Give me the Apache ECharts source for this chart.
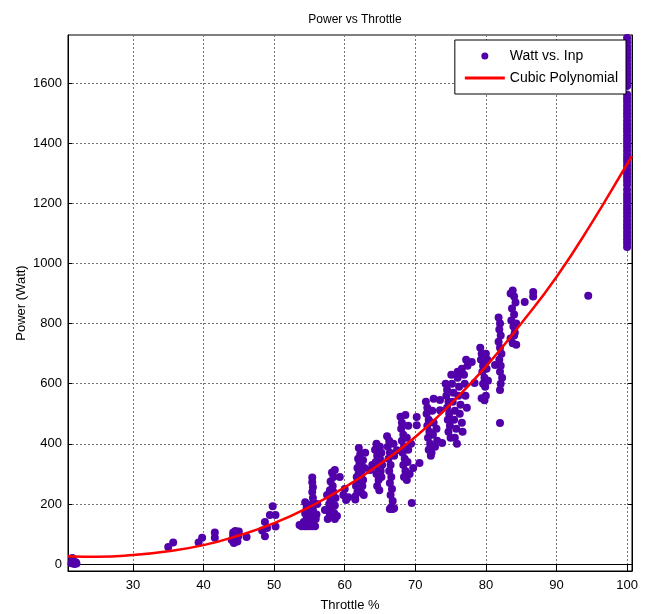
<!DOCTYPE html>
<html>
<head>
<meta charset="utf-8">
<script src="https://cdn.jsdelivr.net/npm/echarts@6/dist/echarts.min.js"></script>
<style>html,body{margin:0;padding:0;background:#fff}#chart{width:646px;height:614px}</style>
</head>
<body>
<div id="chart"></div>
<script>
let chart = echarts.init(document.getElementById('chart'));

/* tick labels */
let xTicks = [30, 40, 50, 60, 70, 80, 90, 100];
let yTicks = [0, 200, 400, 600, 800, 1000, 1200, 1400, 1600];

/* measured points: [throttle %, watt] */
let wattVsInp = [
  [21.3,3],[21.5,12],[21.7,0],[21.9,6],[22.0,2],[21.4,20],
  [35.0,57],[35.7,72],[39.3,72],[39.8,88],[41.6,88],[41.6,105],
  [44.0,80],[44.2,95],[44.2,105],[44.3,70],[44.5,110],[44.6,85],[44.7,100],[44.8,75],[44.9,92],[45.0,108],
  [46.1,90],
  [48.3,112],[48.7,93],[48.7,140],[49.4,163],[49.8,192],[50.2,163],[50.2,125],[49.0,120],
  [53.6,130],[53.9,126],[54.3,126],[54.6,126],[55.0,126],[55.4,126],[55.8,126],
  [54.2,140],[54.6,150],[54.4,168],[54.6,186],[54.9,180],[54.4,206],[55.4,140],[55.4,160],[55.5,180],
  [55.4,200],[55.5,220],[55.4,240],[55.5,256],[55.4,272],[55.4,288],[55.9,150],[56.0,165],[56.1,200],
  [57.6,150],[57.9,165],[58.0,180],[57.8,200],[58.0,215],[58.2,230],[57.9,246],[58.3,260],[58.0,275],
  [58.4,290],[58.2,305],[58.6,313],[58.6,150],[58.5,170],[58.6,195],[58.7,220],[58.4,240],[57.2,180],
  [59.3,290],[58.9,160],[57.5,230],
  [59.8,230],[60.2,213],[60.5,222],[60.0,250],
  [61.5,225],[61.8,240],[61.6,260],[61.9,275],[61.7,290],[62.0,305],[61.8,320],[62.1,335],[61.9,350],
  [62.2,365],[62.0,386],[62.4,300],[62.6,280],[62.5,260],[62.3,240],[62.8,320],[62.6,345],[62.9,370],
  [62.7,230],[61.5,215],
  [63.6,313],[63.9,330],
  [64.3,380],[64.5,400],[64.6,360],[64.4,340],[64.7,320],[64.5,300],[64.8,280],[64.6,260],[65.0,390],
  [65.2,370],[65.0,350],[65.3,330],[65.1,310],[65.2,290],[64.9,246],
  [66.0,425],[66.3,410],[66.1,390],[66.4,370],[66.2,350],[66.5,330],[66.3,310],[66.6,290],[66.4,270],
  [66.7,250],[66.5,230],[66.8,210],[66.6,190],[66.4,183],[66.8,183],[67.0,186],[66.9,400],[67.0,360],[67.4,379],
  [67.9,490],[68.1,470],[68.0,450],[68.3,430],[68.1,410],[68.4,390],[68.2,370],[68.5,350],[68.3,330],
  [68.6,310],[68.4,290],[68.8,280],[68.8,420],[69.0,380],[68.9,340],[69.2,300],[69.0,460],[69.4,400],
  [69.5,203],[69.7,320],[68.6,496],
  [70.2,489],[70.2,462],[70.6,336],
  [71.5,540],[71.7,520],[71.6,500],[71.9,480],[71.7,460],[72.0,440],[71.8,420],[72.1,400],[71.9,380],
  [72.2,360],[72.4,510],[72.6,470],[72.5,430],[72.8,390],[72.6,550],[73.0,450],[73.1,410],[72.3,370],
  [73.5,546],[73.5,512],[73.8,403],
  [74.3,600],[74.5,580],[74.4,560],[74.7,540],[74.5,520],[74.8,500],[74.6,480],[74.9,460],[74.7,440],
  [75.0,420],[75.2,600],[75.4,570],[75.3,540],[75.6,510],[75.5,480],[75.8,450],[75.6,420],[75.9,400],
  [76.0,620],[76.2,590],[76.1,560],[76.4,530],[76.3,500],[76.6,470],[76.7,440],[76.6,650],[76.9,630],
  [77.0,600],[77.2,680],[77.4,660],[77.1,560],[77.3,520],[76.0,640],[75.1,630],
  [78.0,672],[78.4,602],[79.4,552],
  [79.2,720],[79.4,700],[79.3,680],[79.6,660],[79.5,640],[79.8,620],[79.6,600],[80.0,700],[80.2,680],
  [80.1,650],[80.3,610],[79.9,590],[80.0,560],[79.8,545],
  [81.3,662],
  [81.8,820],[82.0,800],[81.9,780],[82.1,760],[81.8,740],[82.0,720],[82.2,700],[81.9,680],[82.1,660],
  [82.0,640],[82.3,620],[82.1,600],[82.0,579],[82.0,469],
  [83.5,900],[83.8,910],[84.0,890],[84.2,870],[83.7,850],[84.0,830],[83.6,810],[84.3,800],[83.9,790],
  [84.1,770],[83.5,750],[83.8,735],[84.3,730],[84.0,760],
  [85.5,872],[86.7,905],[86.7,890],[94.5,893],
  [100,1055],[100,1068],[100,1080],[100,1092],[100,1105],[100,1118],[100,1130],[100,1142],[100,1155],
  [100,1168],[100,1180],[100,1192],[100,1205],[100,1218],[100,1230],[100,1245],[100,1262],[100,1275],[100,1288],
  [100,1300],[100,1312],[100,1325],[100,1338],[100,1350],[100,1362],[100,1375],[100,1388],[100,1400],
  [100,1412],[100,1425],[100,1438],[100,1450],[100,1462],[100,1475],[100,1488],[100,1500],[100,1512],
  [100,1525],[100,1538],[100,1550],[100,1562],[100,1590],[100,1602],[100,1614],[100,1626],[100,1638],
  [100,1650],[100,1662],[100,1674],[100,1686],[100,1698],[100,1710],[100,1722],[100,1736],[100,1750]
];

/* fitted curve */
let cubicFit = [
  [20.8,26],[25,24],[30,30],[35,43],[40,63],[45,95],[50,136],[55,190],[60,255],[65,333],
  [70,423],[75,532],[80,657],[85,800],[90,955],[95,1135],[100,1330],[100.7,1357]
];

let font = 'Liberation Sans, Arial, sans-serif';
let gridDots = { color: '#777', type: [2, 2], width: 1 };

let _opt = {
  backgroundColor: '#fff',
  animation: false,
  title: {
    text: 'Power vs Throttle',
    left: 350, top: 9, textAlign: 'center',
    textStyle: { fontFamily: font, fontSize: 12, fontWeight: 'normal', color: '#000' }
  },
  grid: {
    left: 68, right: 14, top: 35, bottom: 43,
    outerBoundsMode: 'none',
    show: true, borderColor: '#000', borderWidth: 1
  },
  legend: {
    orient: 'vertical',
    right: 20, top: 40,
    padding: [9, 8, 9, 10],
    itemWidth: 40, itemHeight: 7, itemGap: 8,
    backgroundColor: '#fff', borderColor: '#000', borderWidth: 1,
    textStyle: { fontFamily: font, fontSize: 14, color: '#000' },
    data: [
      { name: 'Watt vs. Inp', icon: 'circle' },
      { name: 'Cubic Polynomial', icon: 'path://M0 0H40V3H0Z' }
    ]
  },
  xAxis: [{
    type: 'value', min: 20.8, max: 100.7,
    name: 'Throttle %', nameLocation: 'middle', nameGap: 28,
    nameTextStyle: { fontFamily: font, fontSize: 13, color: '#000' },
    axisLine: { show: true, onZero: false, lineStyle: { color: '#000', width: 1 } },
    axisTick: { show: true, inside: true, length: 4, customValues: xTicks, lineStyle: { color: '#000' } },
    axisLabel: { customValues: xTicks, fontFamily: font, fontSize: 13, color: '#000', margin: 8 },
    splitLine: { show: true, lineStyle: gridDots }
  }, {
    type: 'value', min: 20.8, max: 100.7, position: 'top',
    axisLine: { show: true, lineStyle: { color: '#000' } },
    axisTick: { show: true, inside: true, length: 4, customValues: xTicks, lineStyle: { color: '#000' } },
    axisLabel: { show: false }, splitLine: { show: false }
  }],
  yAxis: [{
    type: 'value', min: -23, max: 1760,
    name: 'Power (Watt)', nameLocation: 'middle', nameGap: 40, nameMoveOverlap: false,
    nameTextStyle: { fontFamily: font, fontSize: 13, color: '#000' },
    axisLine: { show: true, onZero: false, lineStyle: { color: '#000', width: 1 } },
    axisTick: { show: true, inside: true, length: 4, customValues: yTicks, lineStyle: { color: '#000' } },
    axisLabel: { customValues: yTicks, fontFamily: font, fontSize: 13, color: '#000', margin: 6,
                 formatter: function (v) { return String(v); } },
    splitLine: { show: true, lineStyle: gridDots }
  }, {
    type: 'value', min: -23, max: 1760, position: 'right',
    axisLine: { show: true, lineStyle: { color: '#000' } },
    axisTick: { show: true, inside: true, length: 4, customValues: yTicks, lineStyle: { color: '#000' } },
    axisLabel: { show: false }, splitLine: { show: false }
  }],
  series: [{
    name: 'Watt vs. Inp',
    type: 'scatter',
    data: wattVsInp,
    symbolSize: 8,
    itemStyle: { color: '#5200aa', opacity: 1 },
    z: 2
  }, {
    name: 'Cubic Polynomial',
    type: 'line',
    data: cubicFit,
    smooth: true,
    symbol: 'none',
    lineStyle: { color: '#ff0000', width: 2.5 },
    itemStyle: { color: '#ff0000' },
    z: 3
  }]
};

chart.setOption(_opt);
</script>
</body>
</html>
